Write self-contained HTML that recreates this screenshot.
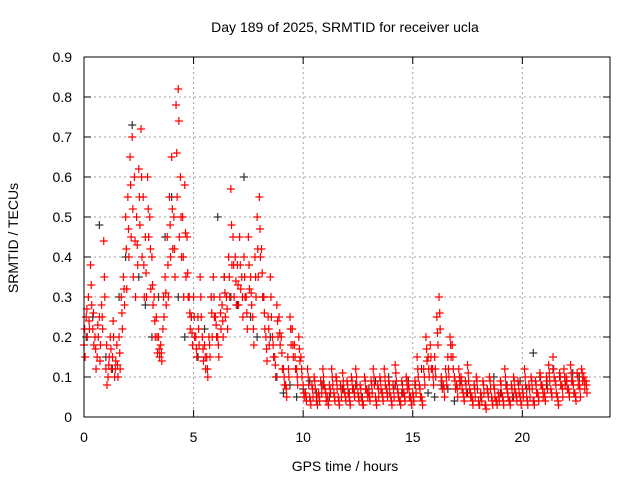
<!DOCTYPE html>
<html><head><meta charset="utf-8"><style>
body{margin:0;background:#fff}
svg text{font-family:"Liberation Sans",sans-serif;font-size:14px;fill:#000}
</style></head><body>
<svg id="chart" width="640" height="480" xmlns="http://www.w3.org/2000/svg">
<rect width="640" height="480" fill="#fff"/>
<text x="345" y="32" text-anchor="middle">Day 189 of 2025, SRMTID for receiver ucla</text>
<text transform="translate(18,238) rotate(-90)" text-anchor="middle">SRMTID / TECUs</text>
<text x="345" y="471" text-anchor="middle">GPS time / hours</text>
<g id="grid"></g><g id="ticks"></g><g id="marks"></g>
<rect x="84" y="57" width="526" height="360" fill="none" stroke="#000" stroke-width="1"/>
</svg>
<script>
const xTicks=[0,5,10,15,20];
const yTicks=[0,0.1,0.2,0.3,0.4,0.5,0.6,0.7,0.8,0.9];
const yTickLabels=["0","0.1","0.2","0.3","0.4","0.5","0.6","0.7","0.8","0.9"];
const step=0.1;
const redA=[0.18,0.25,0.3,0.38,0.22,0.2,0.15,0.25,0.28,0.44,
0.12,0.1,0.2,0.15,0.1,0.18,0.2,0.3,0.35,0.5,
0.55,0.65,0.7,0.6,0.5,0.62,0.72,0.55,0.45,0.6,
0.5,0.4,0.3,0.25,0.2,0.18,0.22,0.35,0.45,0.55,
0.65,0.5,0.78,0.82,0.6,0.5,0.58,0.45,0.3,0.25,
0.3,0.2,0.25,0.35,0.2,0.18,0.15,0.2,0.3,0.35,
0.25,0.2,0.3,0.28,0.35,0.3,0.4,0.57,0.45,0.4,
0.38,0.45,0.35,0.4,0.3,0.45,0.35,0.25,0.4,0.5,
0.55,0.42,0.3,0.2,0.25,0.35,0.2,0.15,0.28,0.25,
0.2,0.12,0.08,0.15,0.25,0.22,0.18,0.12,0.2,0.15,
0.08,0.06,0.12,0.05,0.08,0.1,0.04,0.06,0.09,0.12,
0.07,0.05,0.08,0.12,0.06,0.1,0.05,0.08,0.11,0.06,
0.09,0.05,0.1,0.07,0.12,0.06,0.08,0.04,0.1,0.07,
0.06,0.09,0.12,0.05,0.08,0.1,0.06,0.12,0.07,0.09,
0.05,0.08,0.13,0.07,0.04,0.09,0.06,0.1,0.08,0.05,
0.06,0.09,0.15,0.08,0.05,0.12,0.2,0.15,0.18,0.12,
0.15,0.25,0.3,0.1,0.08,0.12,0.15,0.2,0.18,0.1,
0.08,0.12,0.1,0.06,0.09,0.13,0.07,0.05,0.08,0.1,
0.04,0.06,0.09,0.03,0.07,0.1,0.05,0.08,0.04,0.06,
0.09,0.05,0.12,0.07,0.04,0.08,0.1,0.06,0.09,0.05,
0.07,0.12,0.05,0.08,0.1,0.04,0.09,0.06,0.11,0.08,
0.06,0.1,0.13,0.07,0.15,0.09,0.05,0.11,0.08,0.12,
0.1,0.07,0.13,0.09,0.06,0.11,0.08,0.12,0.1,0.09];
const redB=[0.15,0.2,0.22,0.28,0.18,0.12,0.2,0.18,0.22,0.3,
0.08,0.15,0.12,0.2,0.14,0.1,0.12,0.22,0.28,0.32,
0.4,0.45,0.35,0.3,0.38,0.48,0.4,0.3,0.3,0.45,
0.32,0.28,0.2,0.16,0.15,0.14,0.25,0.28,0.3,0.4,
0.42,0.35,0.55,0.45,0.4,0.3,0.35,0.3,0.22,0.18,
0.2,0.15,0.18,0.25,0.14,0.12,0.1,0.15,0.2,0.25,
0.2,0.15,0.22,0.2,0.25,0.22,0.3,0.38,0.3,0.28,
0.28,0.32,0.25,0.3,0.22,0.32,0.28,0.18,0.3,0.35,
0.4,0.3,0.22,0.14,0.18,0.25,0.15,0.1,0.2,0.18,
0.12,0.08,0.05,0.1,0.18,0.15,0.12,0.08,0.14,0.1,
0.05,0.04,0.08,0.03,0.05,0.07,0.03,0.04,0.06,0.08,
0.04,0.03,0.06,0.08,0.04,0.07,0.03,0.05,0.07,0.04,
0.06,0.03,0.07,0.05,0.08,0.04,0.05,0.03,0.07,0.05,
0.04,0.06,0.08,0.03,0.05,0.07,0.04,0.08,0.05,0.06,
0.03,0.05,0.09,0.05,0.03,0.06,0.04,0.07,0.05,0.03,
0.04,0.06,0.1,0.05,0.03,0.08,0.14,0.1,0.12,0.08,
0.1,0.18,0.22,0.07,0.05,0.08,0.1,0.15,0.12,0.07,
0.05,0.08,0.07,0.04,0.06,0.09,0.05,0.03,0.05,0.07,
0.03,0.04,0.06,0.02,0.05,0.07,0.03,0.05,0.03,0.04,
0.06,0.03,0.08,0.05,0.03,0.05,0.07,0.04,0.06,0.03,
0.05,0.08,0.03,0.05,0.07,0.03,0.06,0.04,0.08,0.05,
0.04,0.07,0.09,0.05,0.1,0.06,0.03,0.08,0.05,0.08,
0.07,0.05,0.09,0.06,0.04,0.08,0.05,0.09,0.07,0.06];
const redC=[0.22,0.27,0.24,0.33,0.26,0.17,0.23,0.14,0.25,0.35,
0.18,0.13,0.17,0.24,0.12,0.13,0.16,0.26,0.32,0.42,
0.47,0.58,0.52,0.44,0.43,0.55,0.6,0.38,0.36,0.52,
0.42,0.33,0.24,0.2,0.17,0.16,0.3,0.31,0.38,0.48,
0.52,0.42,0.66,0.74,0.5,0.4,0.46,0.36,0.26,0.21,
0.25,0.17,0.22,0.3,0.17,0.15,0.12,0.18,0.26,0.3,
0.23,0.18,0.26,0.24,0.31,0.27,0.35,0.48,0.38,0.34,
0.33,0.38,0.3,0.35,0.26,0.38,0.31,0.22,0.35,0.42,
0.47,0.36,0.26,0.17,0.22,0.3,0.18,0.13,0.24,0.21,
0.16,0.1,0.07,0.12,0.22,0.18,0.15,0.1,0.17,0.12,
0.06,0.05,0.1,0.04,0.07,0.09,0.05,0.05,0.08,0.1,
0.06,0.04,0.07,0.1,0.05,0.09,0.04,0.07,0.09,0.05,
0.08,0.04,0.09,0.06,0.1,0.05,0.07,0.03,0.09,0.06,
0.05,0.08,0.1,0.04,0.07,0.09,0.05,0.1,0.06,0.08,
0.04,0.07,0.11,0.06,0.04,0.08,0.05,0.09,0.07,0.04,
0.05,0.08,0.12,0.07,0.04,0.1,0.17,0.12,0.15,0.1,
0.12,0.21,0.26,0.09,0.07,0.1,0.12,0.18,0.15,0.09,
0.07,0.1,0.09,0.05,0.08,0.11,0.06,0.04,0.07,0.09,
0.03,0.05,0.08,0.03,0.06,0.09,0.04,0.07,0.04,0.05,
0.08,0.04,0.1,0.06,0.04,0.07,0.09,0.05,0.08,0.04,
0.06,0.1,0.04,0.07,0.09,0.04,0.08,0.05,0.1,0.07,
0.05,0.09,0.11,0.06,0.12,0.08,0.04,0.1,0.07,0.1,
0.09,0.06,0.11,0.08,0.05,0.1,0.07,0.11,0.09,0.08];
const darkStep=0.3;
const darkVals=[0.2,0.25,0.48,0.15,0.12,0.3,0.4,0.73,0.35,0.28,
0.2,0.3,0.45,0.55,0.3,0.2,0.25,0.15,0.22,0.3,
0.5,0.35,0.3,0.28,0.6,0.25,0.2,0.3,0.2,0.1,
0.06,0.08,0.05,0.07,0.09,0.06,0.08,0.05,0.1,0.07,
0.06,0.08,0.05,0.07,0.09,0.06,0.1,0.08,0.06,0.09,
0.08,0.12,0.06,0.05,0.08,0.07,0.04,0.09,0.06,0.08,
0.05,0.07,0.1,0.06,0.08,0.05,0.09,0.07,0.16,0.1,
0.08,0.12,0.1,0.09,0.11,0.1];
const X=t=>84+t*(526/24);
const Y=v=>417-v*400;
const NS="http://www.w3.org/2000/svg";
const grid=document.getElementById('grid'),ticks=document.getElementById('ticks'),marks=document.getElementById('marks');
function mk(tag,at,parent){const e=document.createElementNS(NS,tag);for(const k in at)e.setAttribute(k,at[k]);parent.appendChild(e);return e;}
xTicks.forEach(t=>{
 const x=X(t);
 if(t>0){const g=mk('line',{x1:x,y1:57,x2:x,y2:417,stroke:'#a0a0a0','stroke-dasharray':'2,3'},grid);
 
 }
 mk('line',{x1:x,y1:417,x2:x,y2:410,stroke:'#000'},ticks);
 mk('line',{x1:x,y1:57,x2:x,y2:64,stroke:'#000'},ticks);
 const tx=mk('text',{x:x,y:442,'text-anchor':'middle'},ticks);tx.textContent=t;
 
 
});
yTicks.forEach((v,i)=>{
 const y=Y(v);
 if(v>0&&v<0.9){const g=mk('line',{x1:84,y1:y,x2:610,y2:y,stroke:'#a0a0a0','stroke-dasharray':'2,3'},grid);
 
 }
 mk('line',{x1:84,y1:y,x2:91,y2:y,stroke:'#000'},ticks);
 mk('line',{x1:610,y1:y,x2:603,y2:y,stroke:'#000'},ticks);
 const tx=mk('text',{x:72,y:y+5,'text-anchor':'end'},ticks);tx.textContent=yTickLabels[i];
 
 
});
function plus(t,v,color,name){
 const x=X(t),y=Y(v);
 const p=mk('path',{d:`M${x-4},${y}h8M${x},${y-4}v8`,stroke:color,'stroke-width':1.2},marks);
 
 
}
darkVals.forEach((v,i)=>plus(i*darkStep+0.1,v,'#333','dark-point'));
redB.forEach((v,i)=>plus(i*step+0.05,v,'#f00','red-point'));
redC.forEach((v,i)=>plus(i*step+0.03,v,'#f00','red-point'));
redA.forEach((v,i)=>plus(i*step,v,'#f00','red-point'));
</script>
</body></html>
